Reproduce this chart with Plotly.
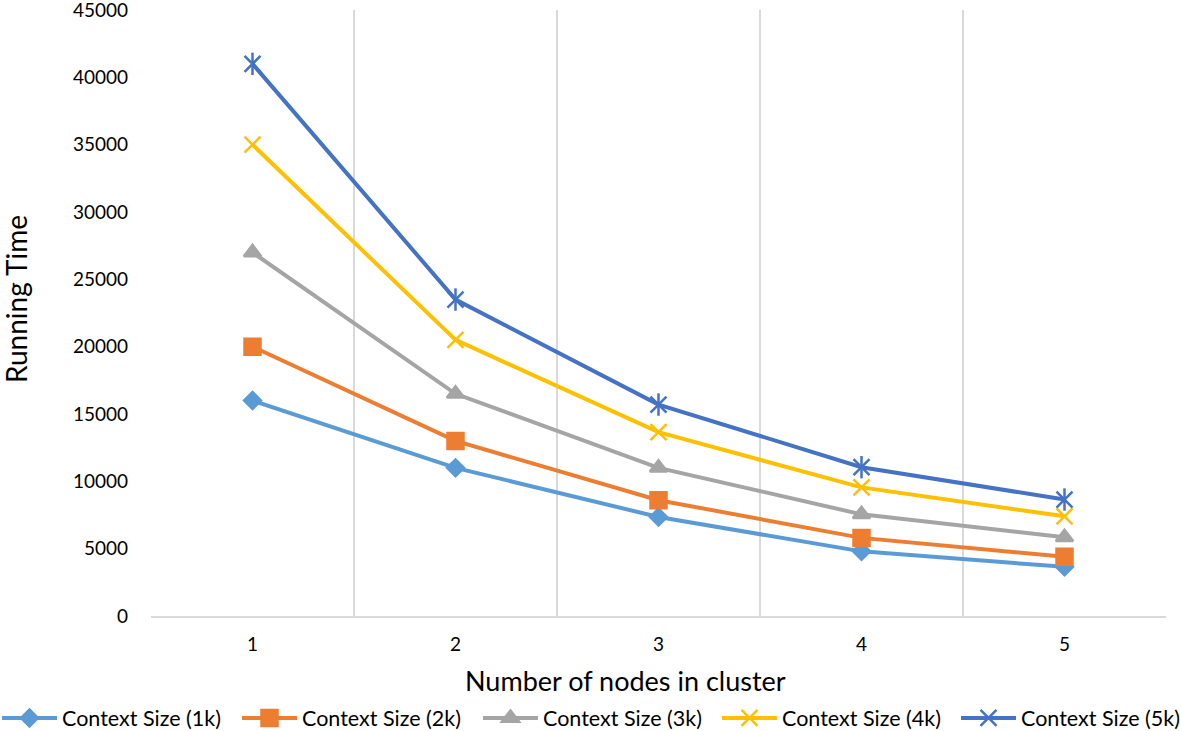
import plotly.graph_objects as go

nodes = [1, 2, 3, 4, 5]
series_names = ["Context Size (1k)", "Context Size (2k)", "Context Size (3k)",
                "Context Size (4k)", "Context Size (5k)"]
ctx_1k = [16000, 11000, 7350, 4800, 3650]
ctx_2k = [20000, 13000, 8600, 5800, 4400]
ctx_3k = [27000, 16500, 11000, 7550, 5850]
ctx_4k = [35000, 20500, 13650, 9550, 7400]
ctx_5k = [41000, 23500, 15700, 11050, 8650]
y_ticks = [0, 5000, 10000, 15000, 20000, 25000, 30000, 35000, 40000, 45000]

colors = ["#5B9BD5", "#ED7D31", "#A5A5A5", "#FFC000", "#4472C4"]
symbols = ["diamond", "square", "triangle-up", "x-thin-open", "x-thin-open"]
sizes = [13, 16, 15, 16, 16]
data = [ctx_1k, ctx_2k, ctx_3k, ctx_4k, ctx_5k]
legend_ids = ["legend", "legend2", "legend3", "legend4", "legend5"]
legend_px = [-3, 237, 478, 717, 956]  # left edge of each legend entry, in pixels

W, H = 1181, 731
ML, MR, MT, MB = 151, 15, 10, 115
PW = W - ML - MR
PH = H - MT - MB

fig = go.Figure()
for name, vals, c, s, sz, lid in zip(series_names, data, colors, symbols, sizes, legend_ids):
    fig.add_trace(go.Scatter(
        x=nodes, y=vals, name=name, mode="lines+markers",
        line=dict(color=c, width=4),
        marker=dict(symbol=s, size=sz, color=c, line=dict(color=c, width=2.5)),
        legend=lid, legendgroup=name,
    ))
# vertical stroke of the star marker for 5k
fig.add_trace(go.Scatter(
    x=nodes, y=ctx_5k, mode="markers", showlegend=False, legendgroup=series_names[4],
    marker=dict(symbol="line-ns-open", size=16, color=colors[4],
                line=dict(color=colors[4], width=2.5)),
    hoverinfo="skip",
))

font_family = "Lato, 'Open Sans', sans-serif"
leg_y = (H - MB - 718) / PH
layout_legends = {}
for lid, px in zip(legend_ids, legend_px):
    layout_legends[lid] = dict(
        orientation="h", x=(px - ML) / PW, xanchor="left", y=leg_y, yanchor="middle",
        font=dict(size=21.5, family=font_family, color="#000000"), itemwidth=55,
        bgcolor="rgba(0,0,0,0)", borderwidth=0,
    )

fig.update_layout(
    width=W, height=H,
    margin=dict(l=ML, r=MR, t=MT, b=MB, autoexpand=False),
    paper_bgcolor="white", plot_bgcolor="white",
    font=dict(family=font_family, color="#000000", size=19),
    showlegend=True,
    annotations=[
        dict(text="Running Time", textangle=-90, showarrow=False,
             xref="paper", yref="paper", x=(16 - ML) / PW, y=(H - MB - 299) / PH,
             xanchor="center", yanchor="middle", font=dict(size=28, family=font_family)),
        dict(text="Number of nodes in cluster", showarrow=False,
             xref="paper", yref="paper", x=(625 - ML) / PW, y=(H - MB - 680) / PH,
             xanchor="center", yanchor="middle", font=dict(size=27, family=font_family)),
    ],
    **layout_legends,
)
fig.update_xaxes(
    range=[0.5, 5.5], tickmode="array", tickvals=nodes, ticktext=[str(n) for n in nodes],
    showgrid=False, zeroline=False, showline=True, linecolor="#D9D9D9", linewidth=1.5,
    ticks="", ticklabelstandoff=10, tickfont=dict(size=19), automargin=False,
    minor=dict(tickmode="array", tickvals=[0.5, 1.5, 2.5, 3.5, 4.5, 5.5],
               showgrid=True, gridcolor="#D9D9D9", gridwidth=1.5),
)
fig.update_yaxes(
    range=[0, 45000], tickmode="array", tickvals=y_ticks, ticktext=[str(v) for v in y_ticks],
    showgrid=False, zeroline=False, showline=False, ticks="", automargin=False,
    ticklabelstandoff=22, tickfont=dict(size=19), ticklabeloverflow="allow",
)

fig.write_html("out.html", config={"displayModeBar": False},
               post_script="document.body.style.margin='0';")
